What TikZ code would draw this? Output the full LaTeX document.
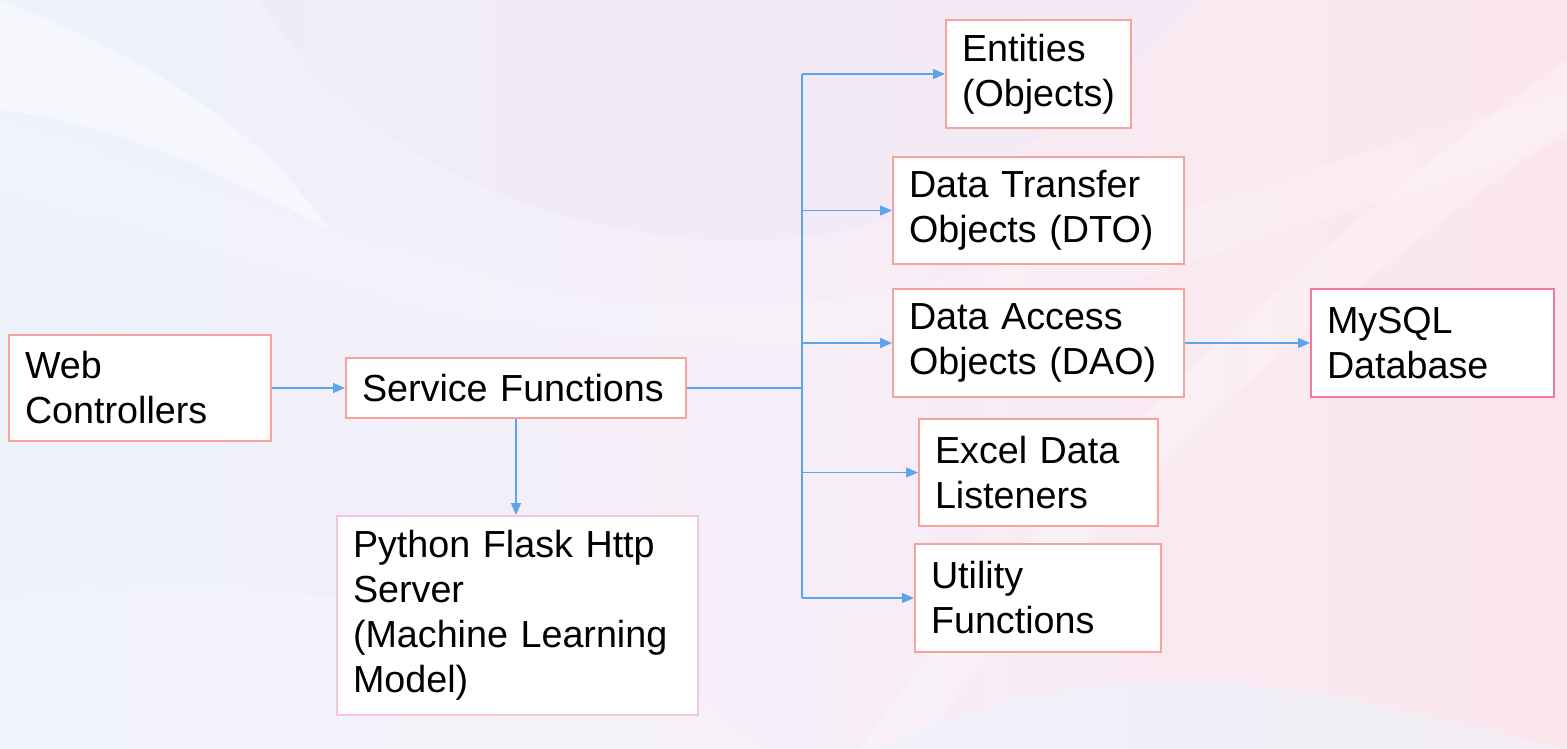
\documentclass[tikz,border=0pt]{standalone}
\usepackage{fontspec}
\setmainfont{Liberation Sans}
\usetikzlibrary{arrows.meta}
\definecolor{boxline}{HTML}{F8A29C}
\definecolor{dbline}{HTML}{F07A9A}
\definecolor{mlline}{HTML}{F4C6DE}
\definecolor{wirecol}{HTML}{5EA4EA}
\definecolor{bgL}{HTML}{EDF2FB}
\definecolor{bgM}{HTML}{F6EEF8}
\definecolor{bgR}{HTML}{FCE6EC}
\definecolor{lav}{HTML}{EFE8F7}
\begin{document}
\begin{tikzpicture}[x=1pt,y=-1pt,
  box/.style={draw=boxline, line width=2pt, fill=white, anchor=north west,
    align=left, inner xsep=16pt, inner ysep=0pt,
    font=\fontsize{37.7}{45}\selectfont},
  dim/.style n args={3}{minimum width=#1pt, minimum height=#2pt, text width=#3pt},
  line/.style={draw=wirecol, line width=1.1pt},
  wire/.style={line, -{Triangle[length=12pt,width=10pt]}}]

% soft background
\useasboundingbox (0,0) rectangle (1567,749);
\shade[left color=bgL, right color=bgR, middle color=bgM] (0,0) rectangle (1567,749);
\fill[white, opacity=.45] (0,0) .. controls (150,60) and (250,120) .. (330,230)
  .. controls (200,160) and (90,120) .. (0,110) -- cycle;
\fill[lav, opacity=.45] (260,0) .. controls (380,200) and (650,260) .. (820,235)
  .. controls (950,215) and (1080,120) .. (1200,0) -- cycle;
\fill[white, opacity=.18] (0,120) .. controls (300,200) and (500,330) .. (820,300)
  .. controls (1000,280) and (1200,200) .. (1567,90) -- (1567,140)
  .. controls (1200,260) and (1000,330) .. (820,340)
  .. controls (500,360) and (250,260) .. (0,190) -- cycle;
\fill[white, opacity=.25] (860,749) .. controls (1050,480) and (1300,250) .. (1567,60)
  -- (1567,130) .. controls (1320,300) and (1080,520) .. (920,749) -- cycle;
\fill[bgL, opacity=.6] (880,749) .. controls (1000,690) and (1150,660) .. (1350,700)
  .. controls (1450,720) and (1520,740) .. (1567,749) -- cycle;
\fill[white, opacity=.2] (0,600) .. controls (200,560) and (450,600) .. (700,700)
  -- (760,749) -- (0,749) -- cycle;

% components
\node[box, dim={262}{106}{230}] (web) at (8,334) {Web\\Controllers};
\node[box, dim={340}{60}{308}] (svc) at (345,357) {Service Functions};
\node[box, draw=mlline, dim={361}{199}{329}] (py) at (336,515)
  {Python Flask Http\\Server\\(Machine Learning\\Model)};
\node[box, dim={185}{108}{153}] (ent) at (945,19) {Entities\\(Objects)};
\node[box, dim={291}{107}{259}] (dto) at (892,156) {Data Transfer\\Objects (DTO)};
\node[box, dim={291}{108}{259}] (dao) at (892,288) {Data Access\\Objects (DAO)};
\node[box, dim={239}{107}{207}] (xls) at (918,418) {Excel Data\\Listeners};
\node[box, dim={246}{108}{214}] (util) at (914,543) {Utility\\Functions};
\node[box, draw=dbline, dim={243}{108}{211}] (db) at (1310,288) {MySQL\\Database};

% connectors
\path (svc.east) ++(115,0) coordinate (trunk);
\coordinate (ttop) at (trunk |- ent.west);
\coordinate (tbot) at (trunk |- util.west);
\draw[wire] (web.east) -- (svc.west);
\draw[wire] (svc.south) -- (svc.south |- py.north);
\draw[line] (svc.east) -- (trunk);
\draw[line] (ttop) -- (tbot);
\draw[wire] (ttop) -- (ent.west);
\draw[wire] (trunk |- dto.west) -- (dto.west);
\draw[wire] (trunk |- dao.west) -- (dao.west);
\draw[wire] (trunk |- xls.west) -- (xls.west);
\draw[wire] (tbot) -- (util.west);
\draw[wire] (dao.east) -- (db.west);
\end{tikzpicture}
\end{document}
